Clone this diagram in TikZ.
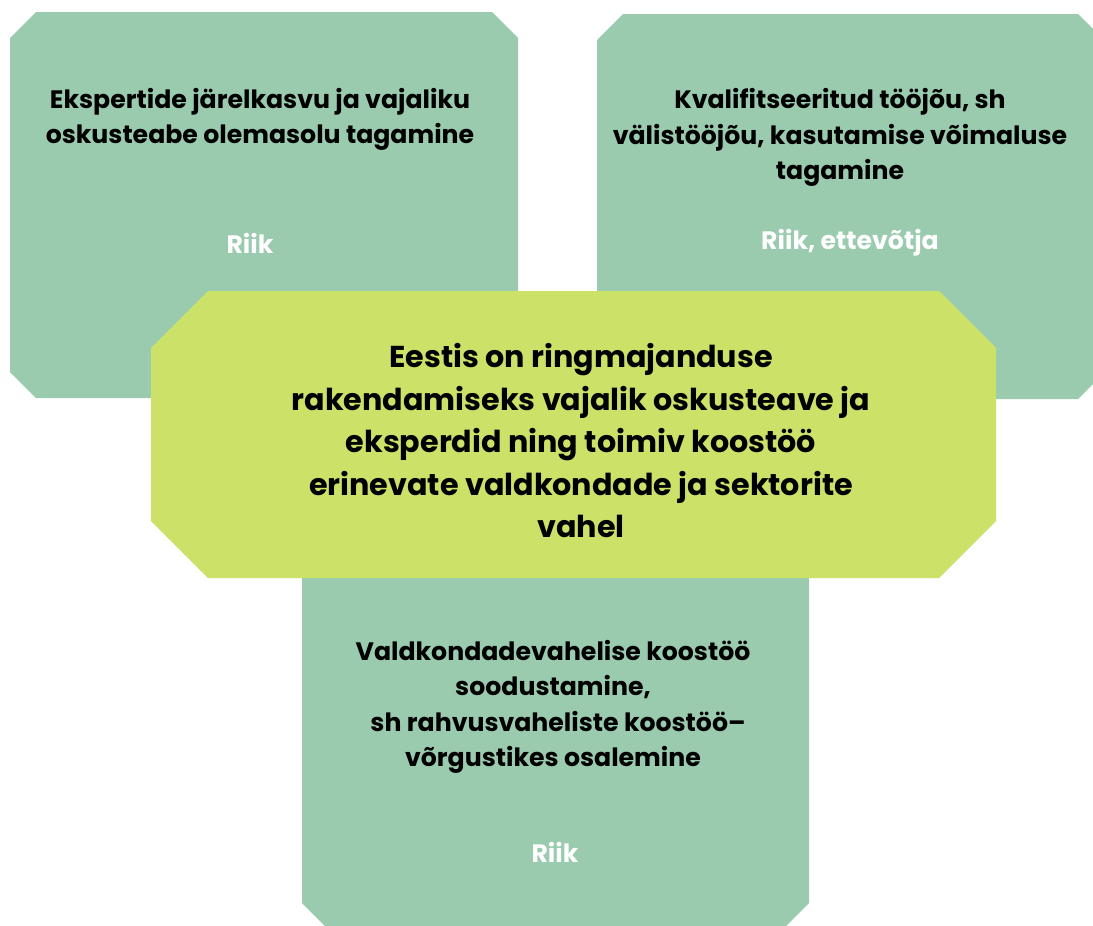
\documentclass[tikz,border=0pt]{standalone}
\usepackage{fontspec}
\setmainfont{Poppins}
\definecolor{boxgreen}{HTML}{9ACBAE}
\definecolor{boxlime}{HTML}{CBE168}
\newcommand\octpath[5]{% x1 y1 x2 y2 cut
  (#1+#5,#2) -- (#3-#5,#2) -- (#3,#2+#5) -- (#3,#4-#5) -- (#3-#5,#4) -- (#1+#5,#4) -- (#1,#4-#5) -- (#1,#2+#5) -- cycle}
\tikzset{
  smalltxt/.style={font=\fontsize{25.2}{35.3}\selectfont\bfseries, text=black, align=center},
  bigtxt/.style={font=\fontsize{30.2}{42.5}\selectfont\bfseries, text=black, align=center},
  actor/.style={font=\fontsize{25.2}{35}\selectfont\bfseries, text=white, align=center},
}
\begin{document}
\begin{tikzpicture}[x=1pt,y=-1pt]
\useasboundingbox (0,0) rectangle (1093,926);
\fill[boxgreen] \octpath{10}{12}{518}{398}{26};
\fill[boxgreen] \octpath{597}{14}{1104}{399}{26};
\fill[boxgreen] \octpath{302}{543}{809}{929}{26};
\fill[boxlime] \octpath{151}{291}{996}{578}{57};
\node[smalltxt] (t1) at (260,119.5) {Ekspertide järelkasvu ja vajaliku\\oskusteabe olemasolu tagamine};
\node[actor] (a1) at (250,243) {Riik};
\node[smalltxt] (t2) at (840,137.5) {Kvalifitseeritud tööjõu, sh\\välistööjõu, kasutamise võimaluse\\tagamine};
\node[actor] (a2) at (850,243) {Riik, ettevõtja};
\node[bigtxt] (c) at (581,441) {Eestis on ringmajanduse\\rakendamiseks vajalik oskusteave ja\\eksperdid ning toimiv koostöö\\erinevate valdkondade ja sektorite\\vahel};
\node[smalltxt] (t3) at (553,707) {Valdkondadevahelise koostöö\\soodustamine,\hspace*{1.6em}\\\hspace*{0.4em}sh rahvusvaheliste koostöö–\\võrgustikes osalemine};
\node[actor] (a3) at (555,852) {Riik};
\end{tikzpicture}
\end{document}
